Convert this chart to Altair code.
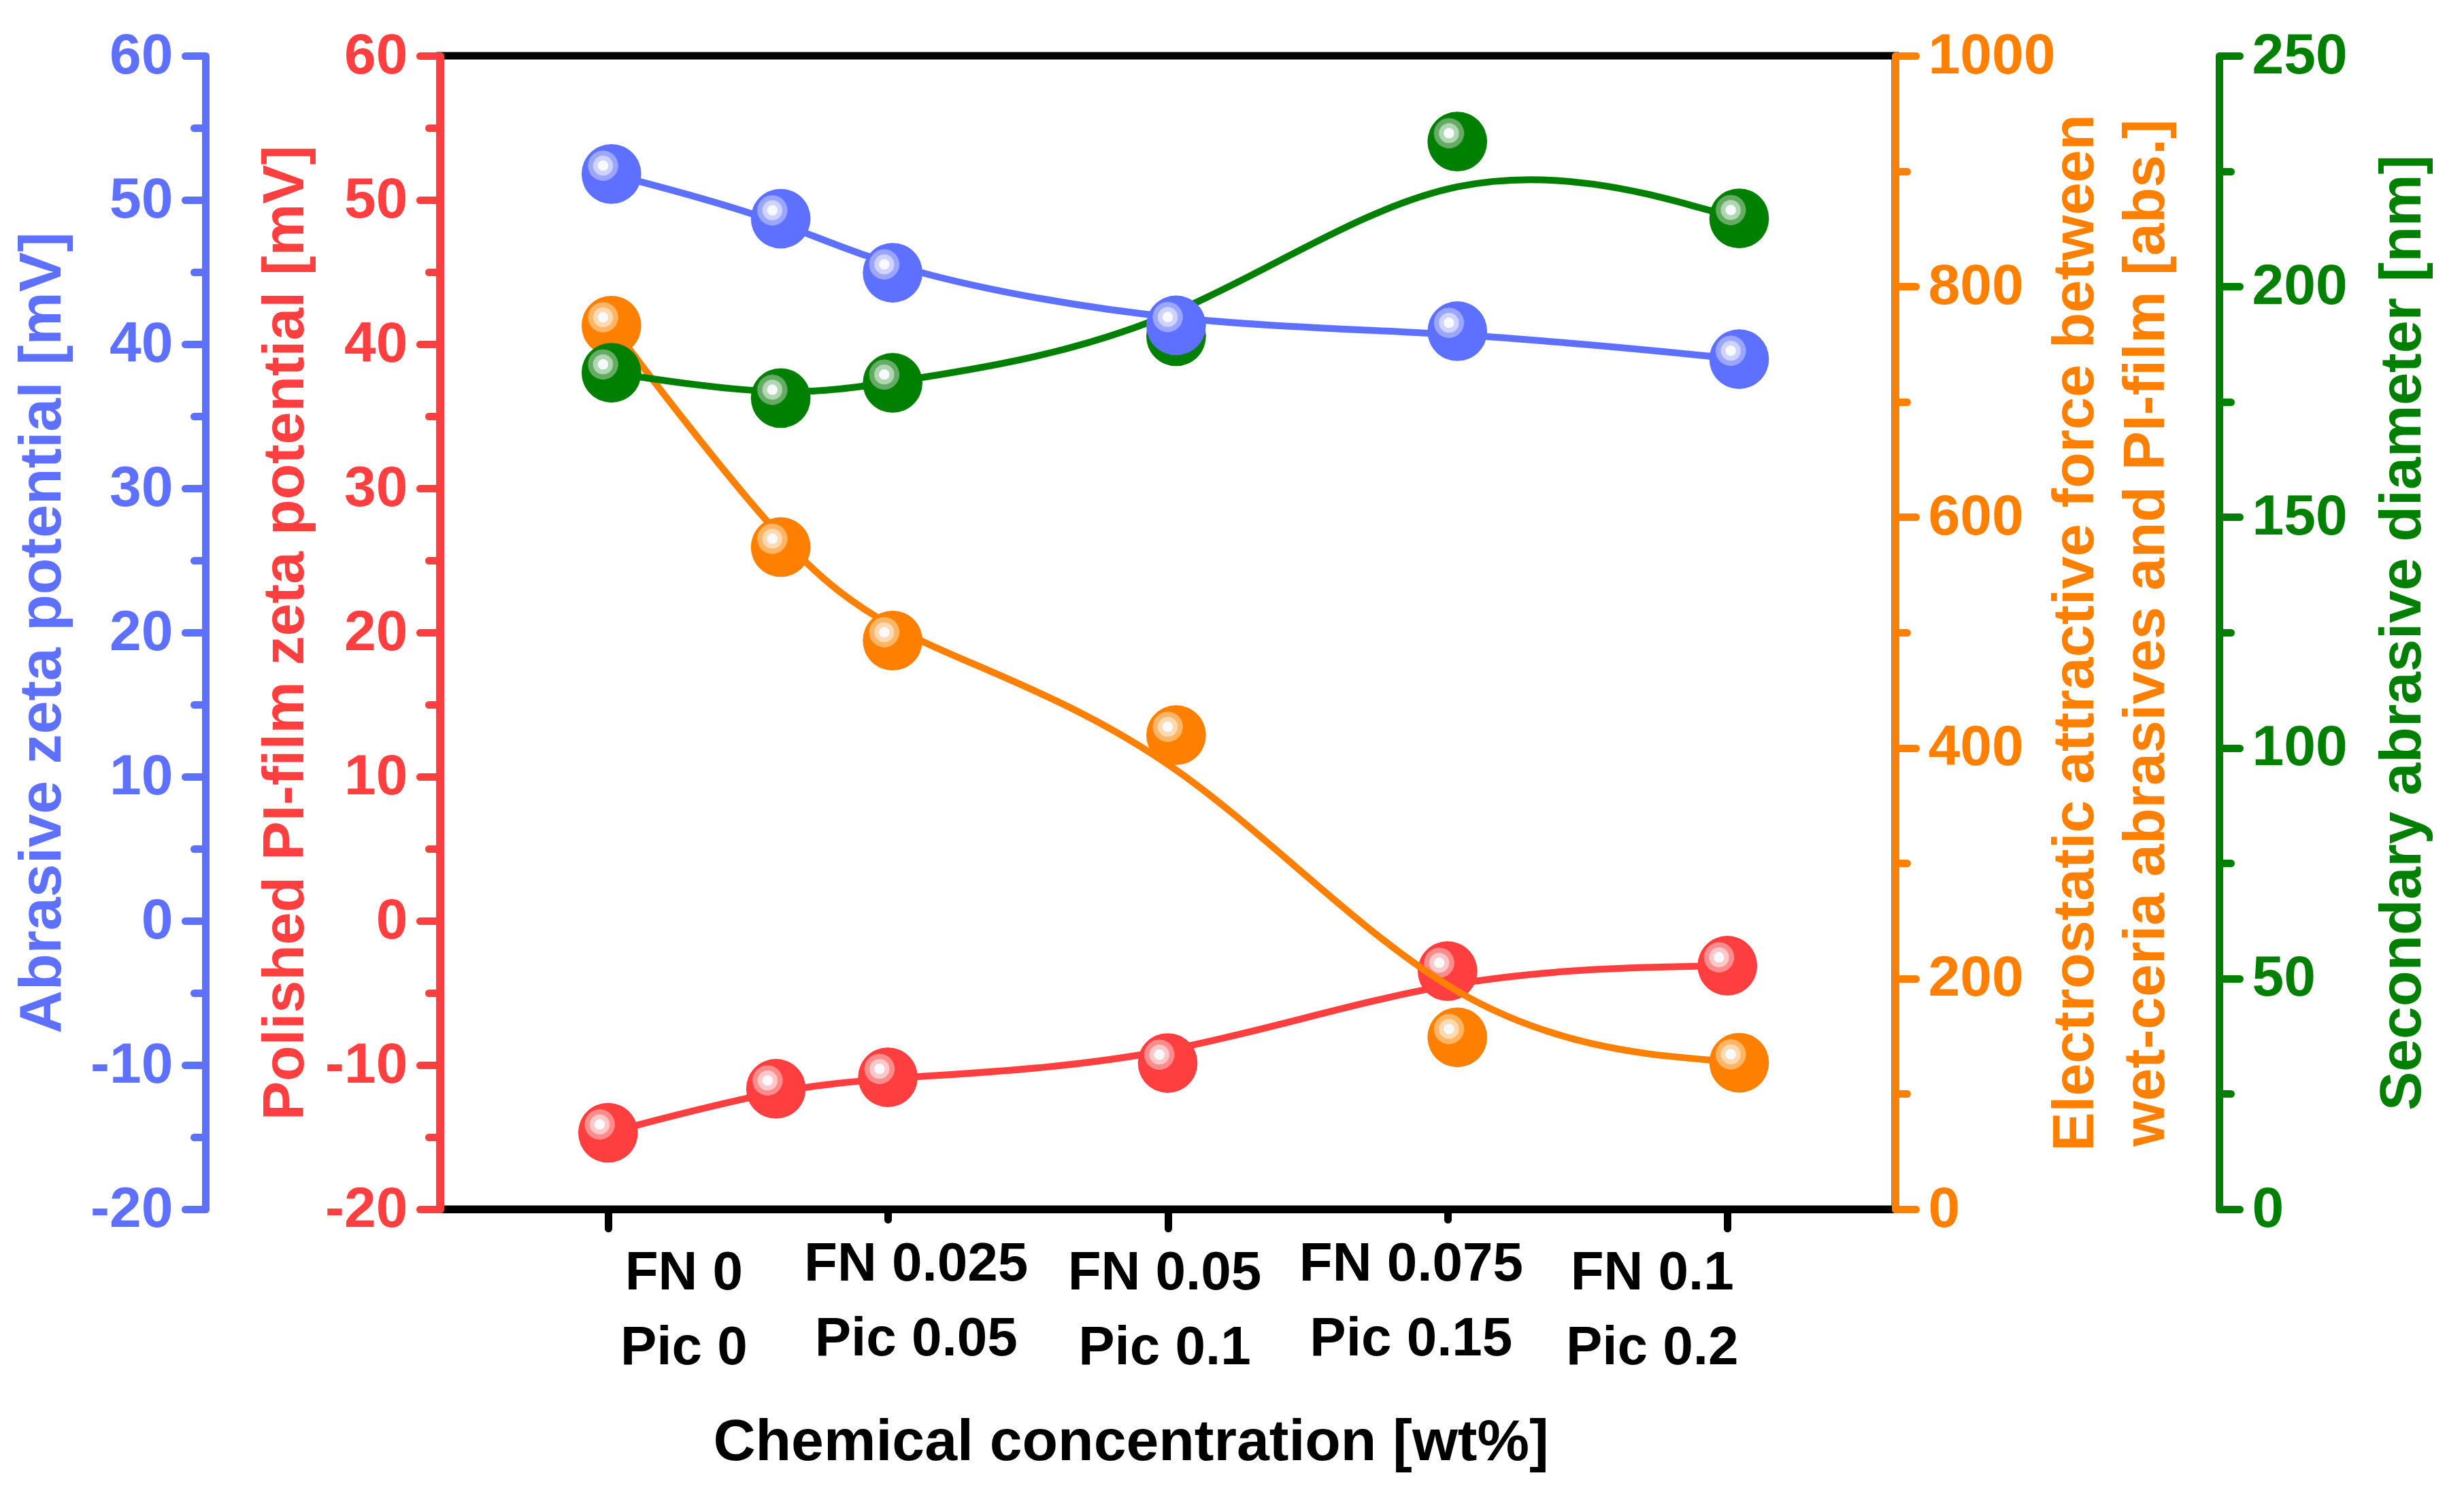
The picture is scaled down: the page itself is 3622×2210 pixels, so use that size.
import altair as alt
import pandas as pd

# ---------------- data ----------------
x_red = [0, 0.6, 1, 2, 3, 4]
x_other = [0.012, 0.617, 1.017, 2.03, 3.035, 4.042]
blue_vals = [51.8, 48.7, 44.95, 41.3, 40.9, 38.96]        # Abrasive zeta potential [mV]
red_vals = [-14.7, -11.65, -10.85, -9.86, -3.49, -3.11]    # Polished PI-film zeta potential [mV]
orange_vals = [766, 574, 493, 411, 149, 127]               # Electrostatic attractive force [abs.]
green_vals = [181.3, 175.8, 179.1, 189.2, 231.4, 214.75]   # Secondary abrasive diameter [nm]

x_ticks = [0, 1, 2, 3, 4]
fn_labels = ["FN 0", "FN 0.025", "FN 0.05", "FN 0.075", "FN 0.1"]
pic_labels = ["Pic 0", "Pic 0.05", "Pic 0.1", "Pic 0.15", "Pic 0.2"]

blue_ticks = list(range(-20, 61, 5))
red_ticks = list(range(-20, 61, 5))
orange_ticks = list(range(0, 1001, 100))
green_ticks = list(range(0, 251, 25))

BLUE = "#5D70FF"
RED = "#FF3F3F"
ORANGE = "#FF8000"
GREEN = "#008000"
FONT = "Liberation Sans"

W, H = 2139, 1696
LW = 11

# ---------------- helpers ----------------
x_label_expr = "[" + ",".join(
    "['%s','%s']" % (f, p) for f, p in zip(fn_labels, pic_labels)) + "][datum.value]"
x_offsets = [111, 41, -5, -54, -111]

x_axis = alt.Axis(
    values=x_ticks,
    labelExpr=x_label_expr,
    labelOffset={"condition": [{"test": "datum.value == %d" % v, "value": o}
                               for v, o in zip(x_ticks, x_offsets)], "value": 0},
    labelFont=FONT, labelFontSize=80, labelFontWeight="bold", labelColor="black",
    labelLineHeight=110, labelPadding=26, labelBaseline="top", labelLimit=2000,
    tickSize={"condition": {"test": "datum.value % 2 != 0", "value": 15}, "value": 28},
    tickWidth=LW, tickColor="black", tickCap="round",
    domainColor="black", domainWidth=LW,
    grid=False,
    title="Chemical concentration [wt%]",
    titleFont=FONT, titleFontSize=86, titleFontWeight="bold", titleColor="black",
    titlePadding=100, titleX=1015, titleAlign="center", titleAnchor="start",
)
x_scale = alt.Scale(domain=[-0.6, 4.6], nice=False, zero=False)


def y_axis(values, major, color, title, orient, offset, title_pad, baseline="bottom", tsize=86):
    return alt.Axis(
        values=values, orient=orient, offset=offset,
        labelExpr="datum.value %% %d == 0 ? '' + datum.value : ''" % major,
        labelFont=FONT, labelFontSize=84, labelFontWeight="bold", labelColor=color,
        labelPadding=18, labelLimit=2000,
        tickSize={"condition": {"test": "datum.value %% %d != 0" % major, "value": 17}, "value": 30},
        tickWidth=LW, tickColor=color, tickCap="round",
        domainColor=color, domainWidth=LW,
        grid=False,
        title=title, titleFont=FONT, titleFontSize=tsize, titleFontWeight="bold",
        titleColor=color, titlePadding=title_pad, titleAngle=270,
        titleBaseline=baseline, titleLineHeight=104, titleLimit=3000,
    )


def gradient(base, mid, light):
    c = 0.36
    return {
        "gradient": "radial", "x1": c, "y1": c, "r1": 0, "x2": c, "y2": c, "r2": 0.5,
        "stops": [
            {"offset": 0, "color": "#f8faff"},
            {"offset": 0.17, "color": "#f8faff"},
            {"offset": 0.18, "color": light},
            {"offset": 0.33, "color": light},
            {"offset": 0.34, "color": mid},
            {"offset": 0.5, "color": mid},
            {"offset": 0.51, "color": base},
            {"offset": 1, "color": base},
        ],
    }


def series(xs, vals, color, mid, light, domain, axis):
    df = pd.DataFrame({"x": xs, "v": vals})
    scale = alt.Scale(domain=domain, nice=False, zero=False)
    base = alt.Chart(df)
    line = base.mark_line(interpolate="basis", color=color, strokeWidth=10).encode(
        x=alt.X("x:Q", scale=x_scale, axis=x_axis),
        y=alt.Y("v:Q", scale=scale, axis=axis),
    )
    pts = base.mark_point(filled=True, shape="circle", size=7700, opacity=1,
                          fill=gradient(color, mid, light), strokeWidth=0).encode(
        x=alt.X("x:Q", scale=x_scale, axis=x_axis),
        y=alt.Y("v:Q", scale=scale, axis=axis),
    )
    return alt.layer(line, pts)


red = series(x_red, red_vals, RED, "#FF8C8C", "#FFC8C8", [-20, 60],
             y_axis(red_ticks, 10, RED, "Polished PI-film zeta potential [mV]", "left", 0, 14))
orange = series(x_other, orange_vals, ORANGE, "#FFB566", "#FFD9B0", [0, 1000],
                y_axis(orange_ticks, 200, ORANGE,
                       ["Electrostatic attractive force between",
                        "wet-ceria abrasives and PI-film [abs.]"],
                       "right", 0, -82, baseline="top"))
green = series(x_other, green_vals, GREEN, "#66AA66", "#B0D8B0", [0, 250],
               y_axis(green_ticks, 50, GREEN, "Secondary abrasive diameter [nm]", "right", 476, 39,
                      baseline="top"))
blue = series(x_other, blue_vals, BLUE, "#9BA6FF", "#CFD3FF", [-20, 60],
              y_axis(blue_ticks, 10, BLUE, "Abrasive zeta potential [mV]", "left", 345, 26, tsize=88))

chart = alt.layer(red, orange, green, blue).resolve_scale(y="independent").properties(
    width=W, height=H,
    padding={"left": 10, "top": 32, "right": 10, "bottom": 10},
    background="white",
).configure_view(stroke="black", strokeWidth=LW)

chart.save("out.html", embed_options={"renderer": "svg", "actions": False})
